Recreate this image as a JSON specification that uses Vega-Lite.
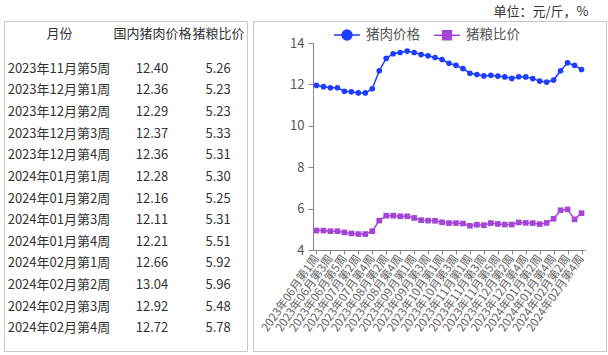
{
  "$schema": "https://vega.github.io/schema/vega-lite/v6.json",
  "background": "white",
  "padding": {"left": 3, "top": 5, "right": 0, "bottom": 0},
  "spacing": 4,
  "title": {"text": "单位：元/斤，%", "anchor": "end", "fontSize": 13, "fontWeight": "normal", "color": "#333", "offset": 2, "dx": -18},
  "resolve": {"scale": {"color": "independent"}, "legend": {"color": "independent"}},
  "config": {
    "font": "Noto Sans CJK SC",
    "view": {"stroke": "#c8c8c8"}
  },
  "datasets": {
    "weekly": [
      {"周": "2023年06月第1周", "猪肉价格": 11.95, "猪粮比价": 4.94},
      {"周": "2023年06月第2周", "猪肉价格": 11.89, "猪粮比价": 4.94},
      {"周": "2023年06月第3周", "猪肉价格": 11.84, "猪粮比价": 4.91},
      {"周": "2023年06月第4周", "猪肉价格": 11.84, "猪粮比价": 4.91},
      {"周": "2023年06月第5周", "猪肉价格": 11.67, "猪粮比价": 4.85},
      {"周": "2023年07月第1周", "猪肉价格": 11.64, "猪粮比价": 4.80},
      {"周": "2023年07月第2周", "猪肉价格": 11.59, "猪粮比价": 4.77},
      {"周": "2023年07月第3周", "猪肉价格": 11.59, "猪粮比价": 4.77},
      {"周": "2023年07月第4周", "猪肉价格": 11.79, "猪粮比价": 4.91},
      {"周": "2023年08月第1周", "猪肉价格": 12.66, "猪粮比价": 5.42},
      {"周": "2023年08月第2周", "猪肉价格": 13.26, "猪粮比价": 5.66},
      {"周": "2023年08月第3周", "猪肉价格": 13.48, "猪粮比价": 5.66},
      {"周": "2023年08月第4周", "猪肉价格": 13.54, "猪粮比价": 5.63},
      {"周": "2023年08月第5周", "猪肉价格": 13.61, "猪粮比价": 5.63},
      {"周": "2023年09月第1周", "猪肉价格": 13.54, "猪粮比价": 5.55},
      {"周": "2023年09月第2周", "猪肉价格": 13.44, "猪粮比价": 5.44},
      {"周": "2023年09月第3周", "猪肉价格": 13.38, "猪粮比价": 5.42},
      {"周": "2023年09月第4周", "猪肉价格": 13.30, "猪粮比价": 5.41},
      {"周": "2023年10月第1周", "猪肉价格": 13.20, "猪粮比价": 5.34},
      {"周": "2023年10月第2周", "猪肉价格": 13.02, "猪粮比价": 5.30},
      {"周": "2023年10月第3周", "猪肉价格": 12.92, "猪粮比价": 5.30},
      {"周": "2023年10月第4周", "猪肉价格": 12.77, "猪粮比价": 5.28},
      {"周": "2023年11月第1周", "猪肉价格": 12.54, "猪粮比价": 5.17},
      {"周": "2023年11月第2周", "猪肉价格": 12.48, "猪粮比价": 5.22},
      {"周": "2023年11月第3周", "猪肉价格": 12.41, "猪粮比价": 5.20},
      {"周": "2023年11月第4周", "猪肉价格": 12.44, "猪粮比价": 5.30},
      {"周": "2023年11月第5周", "猪肉价格": 12.40, "猪粮比价": 5.26},
      {"周": "2023年12月第1周", "猪肉价格": 12.36, "猪粮比价": 5.23},
      {"周": "2023年12月第2周", "猪肉价格": 12.29, "猪粮比价": 5.23},
      {"周": "2023年12月第3周", "猪肉价格": 12.37, "猪粮比价": 5.33},
      {"周": "2023年12月第4周", "猪肉价格": 12.36, "猪粮比价": 5.31},
      {"周": "2024年01月第1周", "猪肉价格": 12.28, "猪粮比价": 5.30},
      {"周": "2024年01月第2周", "猪肉价格": 12.16, "猪粮比价": 5.25},
      {"周": "2024年01月第3周", "猪肉价格": 12.11, "猪粮比价": 5.31},
      {"周": "2024年01月第4周", "猪肉价格": 12.21, "猪粮比价": 5.51},
      {"周": "2024年02月第1周", "猪肉价格": 12.66, "猪粮比价": 5.92},
      {"周": "2024年02月第2周", "猪肉价格": 13.04, "猪粮比价": 5.96},
      {"周": "2024年02月第3周", "猪肉价格": 12.92, "猪粮比价": 5.48},
      {"周": "2024年02月第4周", "猪肉价格": 12.72, "猪粮比价": 5.78}
    ],
    "table": [
      {"月份": "2023年11月第5周", "国内猪肉价格": 12.40, "猪粮比价": 5.26},
      {"月份": "2023年12月第1周", "国内猪肉价格": 12.36, "猪粮比价": 5.23},
      {"月份": "2023年12月第2周", "国内猪肉价格": 12.29, "猪粮比价": 5.23},
      {"月份": "2023年12月第3周", "国内猪肉价格": 12.37, "猪粮比价": 5.33},
      {"月份": "2023年12月第4周", "国内猪肉价格": 12.36, "猪粮比价": 5.31},
      {"月份": "2024年01月第1周", "国内猪肉价格": 12.28, "猪粮比价": 5.30},
      {"月份": "2024年01月第2周", "国内猪肉价格": 12.16, "猪粮比价": 5.25},
      {"月份": "2024年01月第3周", "国内猪肉价格": 12.11, "猪粮比价": 5.31},
      {"月份": "2024年01月第4周", "国内猪肉价格": 12.21, "猪粮比价": 5.51},
      {"月份": "2024年02月第1周", "国内猪肉价格": 12.66, "猪粮比价": 5.92},
      {"月份": "2024年02月第2周", "国内猪肉价格": 13.04, "猪粮比价": 5.96},
      {"月份": "2024年02月第3周", "国内猪肉价格": 12.92, "猪粮比价": 5.48},
      {"月份": "2024年02月第4周", "国内猪肉价格": 12.72, "猪粮比价": 5.78}
    ]
  },
  "hconcat": [
    {
      "width": 243,
      "height": 330,
      "data": {"name": "table"},
      "encoding": {
        "y": {"field": "月份", "type": "ordinal", "sort": null, "scale": {"type": "point", "range": [37, 318]}, "axis": null}
      },
      "layer": [
        {
          "mark": {"type": "text", "fontSize": 13, "color": "#333"},
          "encoding": {
            "x": {"datum": 22.6, "type": "quantitative", "scale": {"domain": [0, 100]},
              "axis": {"orient": "top", "values": [22.6, 60.9, 88.1], "labelExpr": "datum.value < 40 ? '月份' : datum.value < 75 ? '国内猪肉价格' : '猪粮比价'", "domain": false, "ticks": false, "grid": false, "offset": -19, "labelFontSize": 13, "labelColor": "#333", "labelPadding": 0, "title": null, "labelFlush": false, "labelOverlap": false}},
            "text": {"field": "月份"}
          }
        },
        {
          "mark": {"type": "text", "fontSize": 13, "color": "#333"},
          "encoding": {
            "x": {"datum": 60.9, "type": "quantitative",
              "axis": {"orient": "top", "values": [22.6, 60.9, 88.1], "labelExpr": "datum.value < 40 ? '月份' : datum.value < 75 ? '国内猪肉价格' : '猪粮比价'", "domain": false, "ticks": false, "grid": false, "offset": -19, "labelFontSize": 13, "labelColor": "#333", "labelPadding": 0, "title": null, "labelFlush": false, "labelOverlap": false}},
            "text": {"field": "国内猪肉价格", "format": ".2f"}
          }
        },
        {
          "mark": {"type": "text", "fontSize": 13, "color": "#333"},
          "encoding": {
            "x": {"datum": 88.1, "type": "quantitative",
              "axis": {"orient": "top", "values": [22.6, 60.9, 88.1], "labelExpr": "datum.value < 40 ? '月份' : datum.value < 75 ? '国内猪肉价格' : '猪粮比价'", "domain": false, "ticks": false, "grid": false, "offset": -19, "labelFontSize": 13, "labelColor": "#333", "labelPadding": 0, "title": null, "labelFlush": false, "labelOverlap": false}},
            "text": {"field": "猪粮比价", "format": ".2f"}
          }
        }
      ]
    },
    {
      "width": 353,
      "height": 330,
      "data": {"name": "weekly"},
      "transform": [{"fold": ["猪肉价格", "猪粮比价"], "as": ["系列", "值"]}],
      "encoding": {
        "x": {"field": "周", "type": "ordinal", "sort": null, "scale": {"type": "point", "range": [60, 332]},
          "axis": {"values": ["2023年06月第1周", "2023年06月第3周", "2023年06月第5周", "2023年07月第2周", "2023年07月第4周", "2023年08月第2周", "2023年08月第4周", "2023年09月第1周", "2023年09月第3周", "2023年10月第1周", "2023年10月第3周", "2023年11月第1周", "2023年11月第3周", "2023年11月第5周", "2023年12月第2周", "2023年12月第4周", "2024年01月第2周", "2024年01月第4周", "2024年02月第2周", "2024年02月第4周"],
            "labelAngle": -55, "labelFontSize": 11.5, "labelColor": "#666", "tickColor": "#888", "domainColor": "#888", "tickSize": 4, "offset": -101, "title": null, "labelPadding": 2, "grid": false, "labelOverlap": false}},
        "y": {"field": "值", "type": "quantitative", "scale": {"domain": [4, 14], "range": [229, 22]},
          "axis": {"values": [4, 6, 8, 10, 12, 14], "offset": -60, "labelFontSize": 13, "labelColor": "#555", "tickColor": "#888", "domainColor": "#888", "tickSize": 5, "labelPadding": 4, "grid": false, "title": null}},
        "color": {"field": "系列", "type": "nominal", "scale": {"domain": ["猪肉价格", "猪粮比价"], "range": ["#1f3dff", "#a346d8"]},
          "legend": {"orient": "none", "legendX": 80, "legendY": 0, "direction": "horizontal", "title": null, "labelFontSize": 13.5, "labelColor": "#555", "labelOffset": 5, "columnPadding": 11, "symbolSize": 676,
            "encode": {"symbols": {"update": {
              "shape": {"signal": "datum.value === '猪肉价格' ? 'M-1,0H1M0.38,0A0.38,0.38,0,1,1,-0.38,0A0.38,0.38,0,1,1,0.38,0Z' : 'M-1,0H1M-0.34,-0.34H0.34V0.34H-0.34Z'"},
              "fill": {"signal": "datum.value === '猪肉价格' ? '#1f3dff' : '#a346d8'"},
              "stroke": {"signal": "datum.value === '猪肉价格' ? '#1f3dff' : '#a346d8'"},
              "size": {"value": 676},
              "strokeWidth": {"value": 1.5},
              "opacity": {"value": 1}
            }}}}}
      },
      "layer": [
        {"mark": {"type": "line", "strokeWidth": 1.5}},
        {"mark": {"type": "point", "filled": true, "size": 32, "opacity": 1},
          "encoding": {"shape": {"field": "系列", "type": "nominal", "scale": {"domain": ["猪肉价格", "猪粮比价"], "range": ["circle", "square"]}, "legend": null}}}
      ]
    }
  ]
}
